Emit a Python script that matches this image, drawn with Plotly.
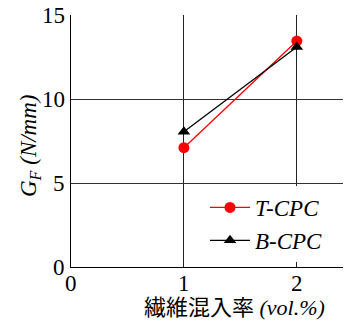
import plotly.graph_objects as go

x_vals = [1, 2]
t_cpc = [7.1, 13.45]
b_cpc = [8.05, 13.1]
series_names = ["T-CPC", "B-CPC"]
x_ticks = [0, 1, 2]
y_ticks = [0, 5, 10, 15]

serif = "Liberation Serif"

# page body has an 8px default margin; figure is sized to fill the rest
W, H = 343, 317
L, T, B = 63, 7, 58
plot_w = W - L
plot_h = H - T - B

fig = go.Figure()
fig.add_trace(go.Scatter(
    x=x_vals, y=t_cpc, mode="lines+markers", name="<i>" + series_names[0] + "</i>",
    line=dict(color="#ff0000", width=1.3),
    marker=dict(symbol="circle", size=11, color="#ff0000"),
))
fig.add_trace(go.Scatter(
    x=x_vals, y=b_cpc, mode="lines+markers", name="<i>" + series_names[1] + "</i>",
    line=dict(color="#000000", width=1.3),
    marker=dict(symbol="triangle-up", size=11, color="#000000"),
))

fig.update_layout(
    width=W, height=H,
    margin=dict(l=L, r=0, t=T, b=B, autoexpand=False),
    paper_bgcolor="white", plot_bgcolor="white",
    font=dict(family=serif, size=23, color="black"),
    showlegend=True,
    legend=dict(
        x=(205 - 71) / plot_w, y=(267 - 262) / plot_h, xanchor="left", yanchor="bottom",
        bgcolor="white", borderwidth=0,
        font=dict(family=serif, size=23, color="black"),
        tracegroupgap=0, itemwidth=40,
    ),
    xaxis=dict(
        range=[0, 2.48], tickvals=x_ticks, showticklabels=False,
        showgrid=True, gridcolor="#222", gridwidth=1.2,
        showline=True, linecolor="black", linewidth=1.2,
        zeroline=False, ticks="", automargin=False,
    ),
    yaxis=dict(
        range=[0, 15], tickvals=y_ticks, showticklabels=False,
        showgrid=True, gridcolor="#333", gridwidth=1.2,
        showline=True, linecolor="black", linewidth=1.2,
        zeroline=False, ticks="", automargin=False,
    ),
)

tick_font = dict(family=serif, size=23, color="black")
for v in x_ticks:
    fig.add_annotation(x=v, y=-(283 - 267) / plot_h, xref="x", yref="paper",
                       xanchor="center", yanchor="middle", showarrow=False,
                       text=str(v), font=tick_font)
for v in y_ticks:
    fig.add_annotation(x=-4 / plot_w, y=v, xref="paper", yref="y",
                       xanchor="right", yanchor="middle", showarrow=False,
                       text=str(v), font=tick_font)

fig.add_annotation(
    x=(30 - 71) / plot_w, y=(267 - 146) / plot_h, xref="paper", yref="paper",
    xanchor="center", yanchor="middle", showarrow=False, textangle=-90,
    text="<i>G<sub>F</sub> (N/mm)</i>",
    font=dict(family=serif, size=23, color="black"),
)
fig.add_annotation(
    x=(234 - 71) / plot_w, y=-(305 - 267) / plot_h, xref="paper", yref="paper",
    xanchor="center", yanchor="middle", showarrow=False,
    text='<span style="font-family:Noto Sans CJK JP">繊維混入率</span> <i>(vol.%)</i>',
    font=dict(family=serif, size=22, color="black"),
)

fig.write_html("out.html")
